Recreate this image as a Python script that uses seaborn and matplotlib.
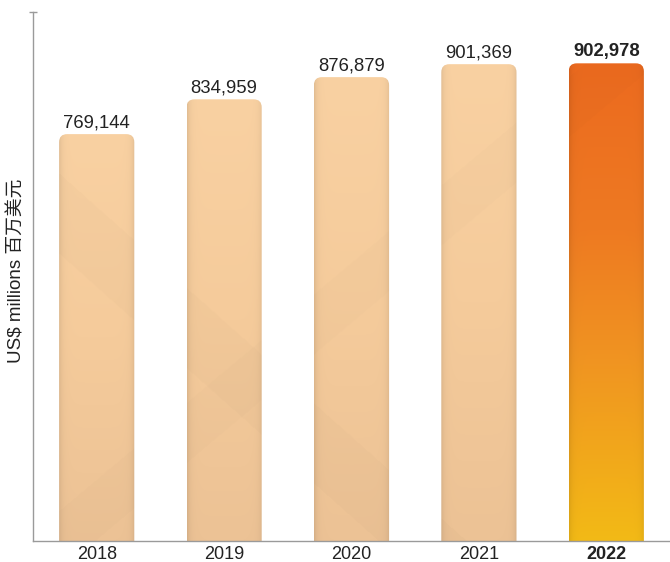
import numpy as np
import pandas as pd
import matplotlib
matplotlib.use("Agg")
import matplotlib.pyplot as plt
import seaborn as sns
from matplotlib.patches import FancyBboxPatch
from matplotlib.colors import to_rgb

# ---- data ----
years = ["2018", "2019", "2020", "2021", "2022"]
values = [769144, 834959, 876879, 901369, 902978]
highlight_year = "2022"
y_label = "US$ millions 百万美元"

sns.set_theme(style="white")
plt.rcParams['font.family'] = ['Liberation Sans', 'Noto Sans CJK SC', 'DejaVu Sans']

W, H = 670, 562
fig = plt.figure(figsize=(W / 100, H / 100), dpi=100)
ax = fig.add_axes([33 / W, 1 - 541 / H, 1 - 33 / W, (541 - 12) / H])

df = pd.DataFrame({"year": years, "value": values})
sns.barplot(data=df, x="year", y="value", ax=ax, width=0.59,
            color="#F5CB9A", saturation=1, errorbar=None)
ax.set_xlim(-0.5, 4.5)
ax.set_ylim(0, 1_000_000)

fig.canvas.draw()
x_per_px = 5.0 / ax.bbox.width
y_per_px = 1_000_000 / ax.bbox.height
radius_px = 8
mut_aspect = y_per_px / x_per_px


def make_image(w_px, h_px, x_left_px, y_top_px, stops, edge_dark=0.09):
    n, m = max(int(h_px), 2), max(int(w_px), 2)
    t = np.linspace(0, 1, n)
    pos = [s[0] for s in stops]
    cols = np.array([to_rgb(s[1]) for s in stops])
    rgb = np.stack([np.interp(t, pos, cols[:, k]) for k in range(3)], axis=-1)
    img = np.repeat(rgb[:, None, :], m, axis=1)
    u = np.arange(m)
    d = np.minimum(u, m - 1 - u)
    fac = 1 - edge_dark * np.exp(-d / 3.0)
    img = img * fac[None, :, None]
    # very subtle diagonal facets in figure pixel space
    X = x_left_px + np.arange(m)[None, :]
    Y = y_top_px + np.arange(n)[:, None]
    shade = np.ones((n, m))
    d1 = Y - 0.9 * X
    shade = np.where((d1 > 120) & (d1 < 200), shade * 0.985, shade)
    d2 = Y + 0.85 * X
    shade = np.where((d2 > 560) & (d2 < 620), shade * 0.988, shade)
    img = img * shade[:, :, None]
    return np.clip(img, 0, 1)


light_stops = [(0, "#F9D1A2"), (0.5, "#F5CB9B"), (1, "#ECC295")]
hi_stops = [(0, "#EC6A1F"), (0.35, "#EE7A22"), (0.6, "#F09222"), (1, "#F3BA16")]

for patch, yr, v in zip(ax.patches, years, values):
    x0 = patch.get_x()
    w = patch.get_width()
    h = patch.get_height()
    patch.set_visible(False)
    extra = 40 * y_per_px
    rb = FancyBboxPatch((x0, -extra), w, h + extra,
                        boxstyle=f"round,pad=0,rounding_size={radius_px * x_per_px}",
                        mutation_aspect=mut_aspect,
                        facecolor="none", edgecolor="none", zorder=2)
    ax.add_patch(rb)
    stops = hi_stops if yr == highlight_year else light_stops
    (px0, py0) = ax.transData.transform((x0, h))
    (px1, py1) = ax.transData.transform((x0 + w, 0))
    img = make_image(px1 - px0, py0 - py1, px0, H - py0, stops)
    im = ax.imshow(img, extent=[x0, x0 + w, 0, h], aspect="auto",
                   origin="upper", zorder=2, interpolation="bilinear")
    im.set_clip_path(rb)
    bold = yr == highlight_year
    ax.text(x0 + w / 2, h + 7 * y_per_px, f"{v:,}",
            ha="center", va="baseline", fontsize=13.3,
            fontweight="bold" if bold else "normal", color="#222222", zorder=3)

ax.set_xlim(-0.5, 4.5)
ax.set_ylim(0, 1_000_000)

for s in ["top", "right"]:
    ax.spines[s].set_visible(False)
for s in ["left", "bottom"]:
    ax.spines[s].set_color("#9a9a9a")
    ax.spines[s].set_linewidth(1.0)

ax.set_yticks([1_000_000])
ax.set_yticklabels([""])
ax.tick_params(axis="y", direction="inout", length=6, width=1, color="#9a9a9a", left=True)
ax.tick_params(axis="x", length=0, pad=3.5, labelsize=13, labelcolor="#222222")
for lab in ax.get_xticklabels():
    if lab.get_text() == highlight_year:
        lab.set_fontweight("bold")

ax.set_xlabel("")
ax.set_ylabel(y_label, fontsize=13.5, color="#222222")
ax.yaxis.set_label_coords(-0.012, 0.51)

fig.savefig("out.png", dpi=100)
